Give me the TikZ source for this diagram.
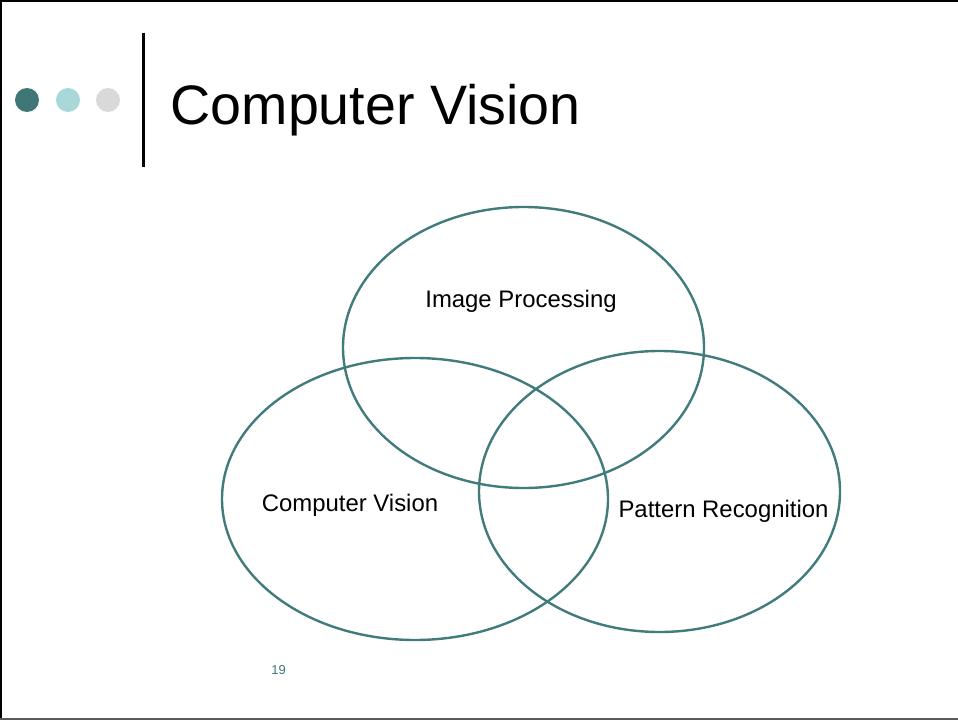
\documentclass[tikz,border=0pt]{standalone}
\usepackage{fontspec}
\setmainfont{Liberation Sans}
\definecolor{tealdark}{HTML}{3F7777}
\definecolor{tealline}{HTML}{427B7B}
\definecolor{teallight}{HTML}{A8D8D8}
\definecolor{dotgrey}{HTML}{D9D9D9}
\begin{document}
\begin{tikzpicture}[x=1pt,y=-1pt,
  venn/.style={draw=tealline,line width=2.4pt},
  vennlabel/.style={anchor=base,inner sep=0pt,font=\fontsize{23.9}{28}\selectfont},
  bullet/.style={circle,inner sep=0pt,minimum size=24pt}]
\useasboundingbox (0,0) rectangle (958,720);
\fill[white] (0,0) rectangle (958,720);
% frame edges
\draw[black,line width=2.5pt] (0,1) -- (958,1);
\draw[black,line width=1.5pt] (0.75,0) -- (0.75,720);
\draw[black!65,line width=2.5pt] (0,719) -- (958,719);
% header bullets and rule
\node[bullet,fill=tealdark] (d1) at (27,100) {};
\node[bullet,fill=teallight] (d2) at (68,100) {};
\node[bullet,fill=dotgrey] (d3) at (108,100) {};
\draw[black,line width=3pt] (143,33) -- (143,167);
\node[anchor=base west,inner sep=0pt,font=\fontsize{55.6}{60}\selectfont] (title) at (170.5,124) {Computer Vision};
% three overlapping sets
\draw[venn] (523.5,347.5) ellipse [x radius=180.5, y radius=140.5];
\draw[venn] (415,499) ellipse [x radius=193, y radius=141];
\draw[venn] (659.5,491.5) ellipse [x radius=180.5, y radius=140.5];
\node[vennlabel] (ip) at (521,307) {Image Processing};
\node[vennlabel] (cv) at (350,511) {Computer Vision};
\node[vennlabel] (pr) at (723.5,517) {Pattern Recognition};
% slide number
\node[anchor=base,inner sep=0pt,text=tealdark,font=\fontsize{13}{15}\selectfont] (num) at (278.5,674) {19};
\end{tikzpicture}
\end{document}
